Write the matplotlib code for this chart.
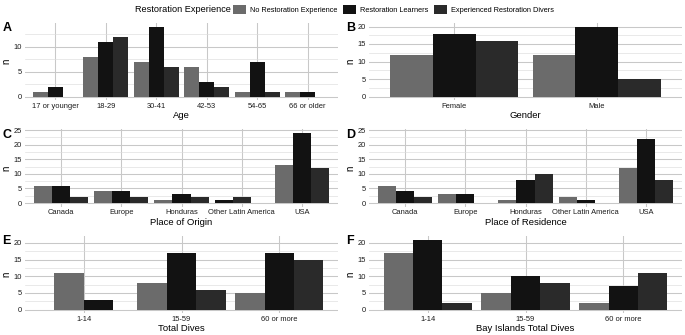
#!/usr/bin/env python3

import matplotlib.pyplot as plt
from matplotlib.patches import Patch
from matplotlib.ticker import MultipleLocator

plt.rcParams['font.family'] = ['Liberation Sans', 'DejaVu Sans']

# Groups and colours
groups = ['No Restoration Experience', 'Restoration Learners', 'Experienced Restoration Divers']
colors = ['#6b6b6b', '#121212', '#2a2a2a']

# A - Age
age_cats = ['17 or younger', '18-29', '30-41', '42-53', '54-65', '66 or older']
age_none = [1, 8, 7, 6, 1, 1]
age_learn = [2, 11, 14, 3, 7, 1]
age_exp = [None, 12, 6, 2, 1, None]

# B - Gender
gender_cats = ['Female', 'Male']
gender_none = [12, 12]
gender_learn = [18, 20]
gender_exp = [16, 5]

# C - Place of origin
origin_cats = ['Canada', 'Europe', 'Honduras', 'Other Latin America', 'USA']
origin_none = [6, 4, 1, None, 13]
origin_learn = [6, 4, 3, 1, 24]
origin_exp = [2, 2, 2, 2, 12]

# D - Place of residence
resid_cats = ['Canada', 'Europe', 'Honduras', 'Other Latin America', 'USA']
resid_none = [6, 3, 1, 2, 12]
resid_learn = [4, 3, 8, 1, 22]
resid_exp = [2, None, 10, None, 8]

# E - Total dives
dives_cats = ['1-14', '15-59', '60 or more']
dives_none = [11, 8, 5]
dives_learn = [3, 17, 17]
dives_exp = [None, 6, 15]

# F - Bay Islands total dives
bay_cats = ['1-14', '15-59', '60 or more']
bay_none = [17, 5, 2]
bay_learn = [21, 10, 7]
bay_exp = [2, 8, 11]

W, H = 685, 335
fig = plt.figure(figsize=(W / 100, H / 100), dpi=100)

left_x, right_x = 25, 369
col_w = 313
row_tops = [23, 129.5, 236]
row_h = 77


def px_axes(x, top):
    return fig.add_axes([x / W, 1 - (top + row_h) / H, col_w / W, row_h / H])


def max_of(*lists):
    return max(v for l in lists for v in l if v is not None)


def dodge_panel(ax, cats, series, xlabel, tag, ymax, align='left', width=0.9):
    n = len(series)
    bw = width / n
    for i in range(len(cats)):
        present = [k for k in range(n) if series[k][i] is not None]
        if align == 'center':
            start = i - bw * len(present) / 2
        else:
            start = i - width / 2
        for j, k in enumerate(present):
            ax.bar(start + bw * (j + 0.5), series[k][i], width=bw,
                   color=colors[k], linewidth=0, zorder=2)
    ax.set_xlim(-0.6, len(cats) - 1 + 0.6)
    ax.set_ylim(-0.05 * ymax, 1.05 * ymax)
    ax.set_xticks(range(len(cats)))
    ax.set_xticklabels(cats)
    ax.yaxis.set_major_locator(MultipleLocator(5))
    ax.yaxis.set_minor_locator(MultipleLocator(2.5))
    ax.grid(which='major', axis='both', color='#c8c8c8', linewidth=0.75, zorder=0)
    ax.grid(which='minor', axis='y', color='#dcdcdc', linewidth=0.45, zorder=0)
    ax.set_axisbelow(True)
    for s in ax.spines.values():
        s.set_visible(False)
    ax.tick_params(which='both', length=0, labelsize=5.4, colors='#1a1a1a', pad=2)
    ax.set_xlabel(xlabel, fontsize=6.8, labelpad=1)
    ax.set_ylabel('n', fontsize=7, labelpad=2)
    ax.text(-0.072, 1.01, tag, transform=ax.transAxes, fontsize=9, fontweight='bold',
            ha='left', va='top')


ax = px_axes(left_x, row_tops[0])
dodge_panel(ax, age_cats, [age_none, age_learn, age_exp], 'Age', 'A',
            max_of(age_none, age_learn, age_exp))

ax = px_axes(right_x, row_tops[0])
dodge_panel(ax, gender_cats, [gender_none, gender_learn, gender_exp], 'Gender', 'B',
            max_of(gender_none, gender_learn, gender_exp))

cd_max = max_of(origin_none, origin_learn, origin_exp, resid_none, resid_learn, resid_exp)
ax = px_axes(left_x, row_tops[1])
dodge_panel(ax, origin_cats, [origin_none, origin_learn, origin_exp], 'Place of Origin', 'C', cd_max)

ax = px_axes(right_x, row_tops[1])
dodge_panel(ax, resid_cats, [resid_none, resid_learn, resid_exp], 'Place of Residence', 'D', cd_max)

ef_max = max_of(dives_none, dives_learn, dives_exp, bay_none, bay_learn, bay_exp)
ax = px_axes(left_x, row_tops[2])
dodge_panel(ax, dives_cats, [dives_none, dives_learn, dives_exp], 'Total Dives', 'E', ef_max,
            align='center')

ax = px_axes(right_x, row_tops[2])
dodge_panel(ax, bay_cats, [bay_none, bay_learn, bay_exp], 'Bay Islands Total Dives', 'F', ef_max)

# Legend at top
fig.text(231 / W, 1 - 9.5 / H, 'Restoration Experience', fontsize=6.6, ha='right', va='center')
handles = [Patch(facecolor=c, edgecolor='none') for c in colors]
fig.legend(handles, groups, loc='center left', bbox_to_anchor=(233 / W, 1 - 9.5 / H),
           ncol=3, frameon=False, fontsize=5.3, handlelength=1.7, handleheight=1.7,
           handletextpad=0.6, columnspacing=0.8, borderpad=0, borderaxespad=0)

fig.savefig('out.png', dpi=100)
plt.close(fig)
